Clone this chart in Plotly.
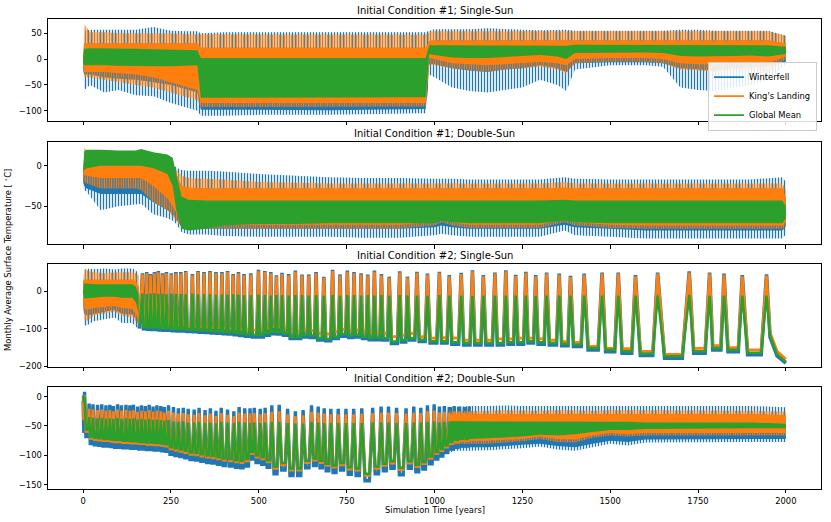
import plotly.graph_objects as go

# ---------------- colours / names ----------------
SERIES = ["Winterfell", "King's Landing", "Global Mean"]
C_WF, C_KL, C_GM = "#1f77b4", "#ff7f0e", "#2ca02c"

PANEL_TITLES = ["Initial Condition #1; Single-Sun", "Initial Condition #1; Double-Sun",
                "Initial Condition #2; Single-Sun", "Initial Condition #2; Double-Sun"]
X_TICKS = [0, 250, 500, 750, 1000, 1250, 1500, 1750, 2000]
P1_YTICKS = [50, 0, -50, -100]
P2_YTICKS = [0, -50]
P3_YTICKS = [0, -100, -200]
P4_YTICKS = [0, -50, -100, -150]

# ---------------- Panel 1 (envelopes, deg C) ----------------
P1_YEARS = [0, 3, 20, 60, 100, 150, 200, 250, 300, 325, 335, 400, 500, 600, 700, 800, 900, 975, 985, 1000,
            1050, 1100, 1150, 1200, 1250, 1300, 1350, 1375, 1400, 1500, 1600, 1650, 1700, 1750, 1800, 1850, 1900, 1950, 2000]
P1_WF_HI = [0, 55, 57, 57, 56, 57, 62, 55, 54, 54, 50, 52, 52, 52, 52, 53, 53, 52, 55, 58,
            58, 58, 60, 58, 57, 56, 57, 57, 55, 55, 55, 55, 57, 57, 55, 55, 55, 55, 45]
P1_WF_CORE_HI = [0, 30, 30, 30, 30, 30, 30, 30, 30, 30, 22, 22, 22, 22, 22, 22, 22, 22, 35, 36,
                 36, 36, 36, 36, 36, 36, 36, 36, 37, 37, 37, 37, 36, 36, 36, 36, 36, 36, 30]
P1_WF_CORE_LO = [-20, -30, -30, -35, -38, -40, -45, -50, -60, -65, -98, -99, -99, -99, -99, -98, -98, -97, -10, -10,
                 -18, -22, -25, -20, -18, -12, -18, -25, -8, -6, -6, -8, -18, -20, -22, -18, -16, -14, -5]
P1_WF_LO = [-20, -60, -50, -65, -60, -70, -72, -85, -95, -100, -110, -110, -108, -108, -108, -106, -106, -105, -30, -35,
            -55, -62, -65, -60, -55, -40, -50, -62, -20, -12, -12, -15, -55, -60, -62, -55, -50, -40, -10]
P1_KL_HI = [0, 68, 52, 52, 50, 50, 50, 50, 48, 48, 47, 47, 47, 47, 47, 47, 47, 47, 52, 54,
            54, 54, 54, 54, 54, 54, 54, 54, 54, 54, 54, 54, 54, 54, 54, 54, 54, 54, 45]
P1_KL_CORE_HI = [0, 30, 30, 30, 30, 30, 30, 30, 30, 30, 22, 22, 22, 22, 22, 22, 22, 22, 35, 36,
                 36, 36, 36, 36, 36, 36, 36, 36, 37, 37, 37, 37, 36, 36, 36, 36, 36, 36, 30]
P1_KL_CORE_LO = [-10, -25, -25, -25, -28, -30, -35, -45, -55, -60, -85, -85, -85, -85, -85, -85, -85, -85, 2, 0,
                 -8, -10, -12, -10, -8, -5, -8, -12, 0, 2, 2, 0, -8, -10, -10, -8, -6, -8, 5]
P1_KL_LO = [-15, -35, -35, -40, -45, -50, -55, -65, -75, -80, -93, -93, -93, -93, -93, -92, -92, -92, -10, -12,
            -18, -22, -25, -20, -18, -15, -20, -28, -8, -5, -5, -8, -20, -22, -25, -22, -20, -25, 0]
P1_GM_HI = [0, 20, 21, 21, 20, 20, 19, 18, 18, 17, 2, 2, 2, 2, 2, 2, 2, 2, 27, 27,
            26, 26, 26, 26, 27, 27, 27, 26, 28, 28, 28, 28, 27, 27, 27, 27, 27, 27, 24]
P1_GM_LO = [-10, -12, -12, -12, -13, -14, -14, -14, -13, -12, -75, -75, -74, -74, -74, -74, -74, -74, 10, 8,
            3, 2, 2, 4, 6, 8, 5, 0, 12, 13, 13, 12, 6, 5, 5, 6, 7, 5, 10]

# ---------------- Panel 2 ----------------
P2_YEARS = [0, 3, 10, 50, 100, 150, 165, 200, 240, 255, 265, 280, 300, 350, 400, 500, 600, 700, 800, 900,
            1000, 1020, 1050, 1100, 1200, 1300, 1370, 1400, 1500, 1600, 1700, 1800, 1900, 1990, 2000]
P2_WF_HI = [-5, 5, 10, 12, 12, 14, 14, 10, 5, 2, -2, -5, -6, -6, -7, -10, -12, -14, -15, -15,
            -16, -16, -16, -17, -17, -17, -14, -16, -17, -17, -17, -17, -17, -14, -20]
P2_WF_CORE_HI = [-5, 10, 10, 10, 10, 10, 10, 8, 5, 0, -10, -25, -27, -28, -28, -28, -28, -28, -28, -28,
                 -28, -28, -28, -28, -28, -28, -27, -28, -28, -28, -28, -28, -28, -28, -40]
P2_WF_CORE_LO = [-20, -25, -28, -35, -35, -35, -35, -45, -55, -60, -65, -75, -78, -78, -78, -78, -78, -78, -78, -78,
                 -76, -74, -76, -78, -78, -78, -73, -76, -78, -80, -80, -80, -80, -80, -75]
P2_WF_LO = [-20, -30, -32, -55, -50, -48, -47, -60, -65, -68, -72, -82, -85, -85, -87, -88, -88, -88, -89, -89,
            -86, -84, -86, -88, -88, -88, -80, -86, -88, -90, -90, -90, -90, -90, -85]
P2_KL_HI = [-5, 24, 18, 15, 15, 15, 15, 12, 8, 3, -5, -12, -15, -16, -17, -20, -21, -22, -22, -22,
            -22, -22, -22, -22, -22, -22, -20, -22, -22, -22, -22, -22, -22, -22, -30]
P2_KL_CORE_HI = [-5, 10, 10, 10, 10, 10, 10, 8, 5, 0, -10, -25, -27, -28, -28, -28, -28, -28, -28, -28,
                 -28, -28, -28, -28, -28, -28, -27, -28, -28, -28, -28, -28, -28, -28, -40]
P2_KL_CORE_LO = [-10, -12, -12, -15, -15, -15, -15, -25, -40, -50, -58, -70, -72, -72, -73, -73, -73, -73, -73, -73,
                 -70, -66, -70, -73, -73, -73, -66, -70, -73, -74, -74, -74, -74, -74, -70]
P2_KL_LO = [-15, -20, -22, -28, -28, -28, -30, -45, -55, -62, -68, -76, -78, -78, -78, -78, -78, -78, -78, -78,
            -74, -70, -74, -77, -77, -77, -70, -74, -77, -78, -78, -78, -78, -78, -75]
P2_GM_HI = [-10, 18, 20, 20, 19, 19, 21, 17, 14, 10, -10, -38, -42, -43, -43, -43, -43, -43, -43, -43,
            -43, -43, -43, -43, -43, -43, -42, -43, -43, -43, -43, -43, -43, -43, -50]
P2_GM_LO = [-10, -5, -3, 0, 0, 0, 0, -3, -10, -25, -55, -78, -80, -78, -74, -72, -72, -71, -71, -71,
            -71, -68, -70, -71, -71, -71, -68, -70, -71, -71, -71, -71, -71, -71, -65]

# ---------------- Panel 3 : early dense part (envelopes) ----------------
P3_BAND_YEARS = [0, 3, 10, 30, 60, 90, 110, 140, 150, 158]
P3_WF_HI = [30, 55, 60, 58, 60, 57, 60, 60, 55, 45]
P3_WF_CORE_HI = [25, 30, 30, 30, 30, 30, 30, 30, 25, 10]
P3_WF_CORE_LO = [-35, -60, -65, -60, -55, -50, -60, -62, -75, -90]
P3_WF_LO = [-40, -90, -92, -80, -75, -70, -85, -85, -95, -100]
P3_KL_HI = [28, 58, 55, 50, 48, 50, 50, 50, 48, 40]
P3_KL_CORE_HI = [25, 30, 30, 30, 30, 30, 30, 30, 25, 10]
P3_KL_CORE_LO = [-25, -45, -50, -45, -42, -40, -45, -48, -60, -80]
P3_KL_LO = [-30, -75, -80, -65, -60, -55, -65, -70, -80, -88]
P3_GM_HI = [0, 20, 20, 18, 18, 18, 18, 18, 12, -10]
P3_GM_LO = [-10, -20, -20, -18, -15, -15, -18, -18, -30, -60]

# ---------------- Panel 3 : spikes (years of warm peaks, peak and trough values) ----------------
P3_SPIKE_YEARS = [169, 181, 192, 203, 214, 226, 237, 251, 264, 278, 292, 311, 327, 344, 361, 378, 395, 411, 427, 442,
                  458, 477, 499, 517, 534, 550, 566, 585, 604, 623, 642, 663, 685, 710, 731, 752, 771, 791, 810, 829,
                  849, 871, 901, 923, 950, 980, 1014, 1042, 1076, 1108, 1139, 1172, 1203, 1231, 1260, 1288, 1319, 1355,
                  1387, 1426, 1477, 1523, 1572, 1635, 1725, 1783, 1824, 1876, 1945]
P3_WF_PEAK = [47, 50, 45, 50, 53, 47, 50, 47, 50, 50, 53, 45, 53, 50, 53, 50, 50, 53, 45, 50, 45,
              47, 56, 53, 50, 42, 48, 45, 54, 44, 44, 50, 38, 56, 44, 54, 50, 47, 44, 54, 45, 38, 52, 38,
              51, 46, 51, 42, 48, 55, 42, 49, 55, 43, 51, 42, 49, 46, 40, 46, 49, 49, 42, 49, 52, 49, 46, 42, 44]
P3_KL_PEAK = [44, 47, 42, 47, 50, 44, 47, 44, 47, 47, 50, 42, 50, 47, 50, 47, 47, 50, 42, 47, 42,
              44, 53, 50, 47, 39, 45, 42, 51, 41, 41, 47, 35, 53, 41, 51, 47, 44, 41, 51, 42, 35, 49, 35,
              48, 43, 48, 39, 45, 52, 39, 46, 52, 40, 48, 39, 46, 43, 37, 43, 46, 46, 39, 46, 49, 46, 43, 39, 41]
P3_GM_PEAK = [-6, -8, -7, -6, -8, -7, -9, -7, -8, -8, -9, -7, -9, -8, -9, -10, -9, -10, -9, -10, -11,
              -11, -10, -11, -12, -11, -11, -12, -11, -11, -12, -11, -12, -11, -12, -11, -11, -12, -11, -12, -11, -12, -11, -12,
              -12, -12, -11, -12, -12, -13, -12, -12, -12, -12, -12, -13, -12, -12, -12, -12, -12, -12, -12, -12, -11, -12, -12, -12, -12]
P3_WF_TROUGH = [-100, -101, -102, -102, -103, -104, -104, -105, -106, -106, -107, -108, -109, -110, -111, -112, -113, -114, -116, -118, -120,
                -122, -122, -117, -113, -114, -117, -126, -126, -122, -123, -130, -132, -126, -120, -123, -122, -126, -129, -129, -130, -139, -135, -130,
                -134, -138, -138, -141, -143, -143, -143, -143, -141, -141, -138, -141, -143, -145, -147, -156, -161, -165, -171, -178, -165, -156, -161, -169]
P3_KL_TROUGH = [-88, -88, -89, -89, -90, -90, -91, -91, -92, -92, -93, -94, -95, -96, -97, -98, -99, -100, -101, -102, -104,
                -104, -104, -99, -95, -96, -99, -108, -108, -104, -105, -112, -114, -108, -102, -105, -104, -108, -111, -111, -112, -121, -117, -112,
                -121, -125, -124, -125, -130, -130, -130, -127, -127, -125, -125, -127, -130, -134, -136, -147, -152, -153, -160, -168, -152, -145, -150, -156]
P3_GM_TROUGH = [-95, -96, -97, -97, -98, -99, -99, -100, -101, -101, -102, -103, -104, -105, -106, -107, -108, -109, -111, -113, -115,
                -117, -117, -112, -108, -109, -112, -121, -121, -117, -118, -125, -127, -121, -115, -118, -117, -121, -124, -124, -125, -134, -130, -125,
                -129, -133, -133, -136, -138, -138, -138, -138, -136, -136, -133, -136, -138, -140, -142, -151, -156, -160, -166, -173, -160, -151, -156, -164]
P3_LEAD_YEARS = [160]
P3_WF_LEAD = [-100]
P3_KL_LEAD = [-87]
P3_GM_LEAD = [-94]
P3_TAIL_YEARS = [1955, 1975, 2000]
P3_WF_TAIL = [-122, -172, -191]
P3_KL_TAIL = [-110, -160, -181]
P3_GM_TAIL = [-118, -168, -188]

# ---------------- Panel 4 : spikes ----------------
P4_SPIKE_YEARS = [4, 17, 28, 41, 53, 65, 76, 86, 98, 109, 122, 133, 143, 155, 166, 177, 188, 199, 210, 221,
                  231, 243, 257, 271, 285, 299, 316, 330, 347, 362, 378, 393, 411, 429, 444, 460, 475, 487, 504, 518,
                  537, 558, 582, 604, 626, 650, 669, 686, 705, 726, 748, 770, 793, 824, 848, 869, 892, 919, 941, 961,
                  980, 999, 1014, 1028, 1042, 1056, 1071, 1085, 1099]
P4_WF_PEAK = [8,
              -12, -13, -14, -13, -15, -14, -16, -13, -15, -14, -15, -14, -17, -15, -16, -14, -17, -15, -16, -18, -15,
              -18, -20, -19, -21, -22, -19, -23, -20, -24, -19, -22, -25, -18, -20,
              -20, -19, -21, -19, -15, -14, -21, -25, -23, -15, -17, -20, -21, -21, -21, -21, -20, -19, -17, -17, -19, -20, -17, -19,
              -15, -13, -17, -16, -18, -16, -17, -18, -17]
P4_KL_PEAK = [2,
              -21, -22, -23, -22, -24, -23, -25, -22, -24, -23, -24, -23, -26, -24, -25, -23, -26, -24, -25, -27, -24,
              -27, -29, -28, -30, -31, -28, -32, -29, -33, -28, -31, -33, -27, -29,
              -29, -28, -30, -28, -26, -25, -30, -33, -32, -26, -27, -29, -30, -30, -30, -30, -29, -28, -27, -27, -28, -29, -27, -28,
              -25, -24, -27, -26, -28, -26, -27, -28, -27]
P4_GM_PEAK = [0,
              -35, -36, -37, -36, -38, -37, -38, -36, -38, -37, -38, -37, -39, -38, -39, -38, -40, -39, -40, -41, -40,
              -42, -43, -42, -44, -44, -43, -45, -44, -45, -43, -44, -45, -43, -44,
              -45, -44, -45, -44, -43, -43, -45, -46, -46, -43, -44, -45, -45, -45, -45, -45, -45, -44, -44, -44, -45, -45, -44, -44,
              -43, -42, -44, -43, -44, -43, -44, -44, -44]
P4_WF_TROUGH = [-68,
                -80, -82, -83, -84, -84, -85, -86, -86, -87, -87, -88, -88, -89, -89, -90, -90, -91, -91, -92, -93,
                -98, -100, -102, -104, -107, -108, -110, -112, -113, -115, -117, -118, -120, -121, -118,
                -106, -112, -115, -120, -131, -125, -134, -134, -121, -117, -121, -126, -129, -125, -132, -134, -143, -131, -126, -122, -133, -122, -128,
                -123, -114, -106, -101, -95, -89, -86, -84, -84]
P4_KL_TROUGH = [-59,
                -71, -73, -74, -75, -75, -76, -77, -77, -78, -78, -79, -79, -80, -80, -81, -81, -82, -82, -83, -84,
                -89, -91, -93, -95, -98, -99, -101, -103, -104, -106, -108, -109, -111, -112, -109,
                -97, -103, -106, -111, -122, -116, -125, -125, -112, -108, -112, -117, -120, -116, -123, -125, -134, -122, -117, -113, -124, -113, -119,
                -114, -105, -97, -92, -86, -80, -77, -75, -75]
P4_GM_TROUGH = [-56,
                -68, -70, -71, -72, -72, -73, -74, -74, -75, -75, -76, -76, -77, -77, -78, -78, -79, -79, -80, -81,
                -86, -88, -90, -92, -95, -96, -98, -100, -101, -103, -105, -106, -108, -109, -106,
                -94, -100, -103, -108, -119, -113, -122, -122, -109, -105, -109, -114, -117, -113, -120, -122, -131, -119, -114, -110, -121, -110, -116,
                -111, -102, -94, -89, -83, -77, -74, -72, -72]
P4_LEAD_YEARS = [0, 2]
P4_WF_LEAD = [-8, -62]
P4_KL_LEAD = [0, -40]
P4_GM_LEAD = [2, -10]

# ---------------- Panel 4 : later dense part (envelopes) ----------------
P4_BAND_YEARS = [1040, 1060, 1100, 1150, 1200, 1250, 1300, 1350, 1400, 1450, 1500, 1550, 1600, 1700, 1800, 1900, 2000]
P4_WF_HI = [-18, -17, -16, -16, -15, -16, -16, -15, -16, -16, -15, -15, -16, -16, -15, -16, -18]
P4_WF_CORE_HI = [-30, -30, -30, -30, -29, -30, -30, -29, -30, -30, -29, -29, -30, -30, -29, -30, -32]
P4_WF_CORE_LO = [-90, -86, -86, -86, -84, -82, -80, -84, -86, -80, -75, -77, -73, -73, -72, -72, -72]
P4_WF_LO = [-96, -92, -92, -91, -90, -88, -85, -90, -92, -86, -80, -83, -78, -77, -77, -77, -77]
P4_KL_HI = [-25, -25, -24, -24, -23, -24, -24, -23, -24, -24, -23, -23, -24, -24, -23, -24, -26]
P4_KL_CORE_HI = [-30, -30, -30, -30, -29, -30, -30, -29, -30, -30, -29, -29, -30, -30, -29, -30, -32]
P4_KL_CORE_LO = [-78, -76, -75, -75, -74, -72, -68, -72, -73, -66, -62, -64, -62, -62, -62, -62, -62]
P4_KL_LO = [-84, -81, -80, -80, -78, -76, -72, -77, -78, -70, -66, -68, -66, -66, -66, -66, -66]
P4_GM_HI = [-42, -42, -42, -42, -42, -42, -42, -42, -42, -43, -43, -43, -44, -44, -44, -44, -46]
P4_GM_LO = [-78, -74, -72, -71, -70, -68, -65, -66, -64, -60, -57, -57, -55, -55, -54, -54, -54]

# ---------------- figure ----------------
fig = go.Figure()
AX = {1: ("x", "y"), 2: ("x2", "y2"), 3: ("x3", "y3"), 4: ("x4", "y4")}


def band(panel, years, hi, lo, color, stripes=None):
    assert len(years) == len(hi) == len(lo)
    xa, ya = AX[panel]
    xs = list(years) + list(years)[::-1]
    ys = list(hi) + list(lo)[::-1]
    kw = dict(x=xs, y=ys, mode="lines", line=dict(width=0, color=color), fill="toself",
              hoverinfo="skip", showlegend=False, xaxis=xa, yaxis=ya)
    if stripes:
        kw["fillcolor"] = "rgba(0,0,0,0)"
        kw["fillpattern"] = dict(shape="|", fgcolor=color, fgopacity=1, bgcolor="rgba(0,0,0,0)",
                                 size=stripes[0], solidity=stripes[1])
    else:
        kw["fillcolor"] = color
    fig.add_trace(go.Scatter(**kw))


def spikes(panel, lead_x, lead_y, years, peaks, troughs, tail_x, tail_y, color, width, frac):
    assert len(years) == len(peaks) == len(troughs) + 1
    xa, ya = AX[panel]
    xs, ys = list(lead_x), list(lead_y)
    for i, s in enumerate(years):
        xs.append(s)
        ys.append(peaks[i])
        if i < len(troughs):
            gap = years[i + 1] - s
            xs += [s + frac * gap, s + (1 - frac) * gap]
            ys += [troughs[i], troughs[i]]
    xs += list(tail_x)
    ys += list(tail_y)
    fig.add_trace(go.Scatter(x=xs, y=ys, mode="lines", line=dict(color=color, width=width),
                             hoverinfo="skip", showlegend=False, xaxis=xa, yaxis=ya))


WF_STRIPES = (3, 0.45)
KL_STRIPES = (2.4, 0.55)
P3_FRAC = 0.22
P4_FRAC = 0.3


def band_set(panel, years, wf, kl, gm):
    band(panel, years, wf[0], wf[3], C_WF, stripes=WF_STRIPES)
    band(panel, years, wf[1], wf[2], C_WF)
    band(panel, years, kl[0], kl[3], C_KL, stripes=KL_STRIPES)
    band(panel, years, kl[1], kl[2], C_KL)
    band(panel, years, gm[0], gm[1], C_GM)


band_set(1, P1_YEARS, (P1_WF_HI, P1_WF_CORE_HI, P1_WF_CORE_LO, P1_WF_LO),
         (P1_KL_HI, P1_KL_CORE_HI, P1_KL_CORE_LO, P1_KL_LO), (P1_GM_HI, P1_GM_LO))
band_set(2, P2_YEARS, (P2_WF_HI, P2_WF_CORE_HI, P2_WF_CORE_LO, P2_WF_LO),
         (P2_KL_HI, P2_KL_CORE_HI, P2_KL_CORE_LO, P2_KL_LO), (P2_GM_HI, P2_GM_LO))

# panel 3: early band then spikes (drawn series by series)
band(3, P3_BAND_YEARS, P3_WF_HI, P3_WF_LO, C_WF, stripes=WF_STRIPES)
band(3, P3_BAND_YEARS, P3_WF_CORE_HI, P3_WF_CORE_LO, C_WF)
spikes(3, P3_LEAD_YEARS, P3_WF_LEAD, P3_SPIKE_YEARS, P3_WF_PEAK, P3_WF_TROUGH, P3_TAIL_YEARS, P3_WF_TAIL, C_WF, 3.6, P3_FRAC)
band(3, P3_BAND_YEARS, P3_KL_HI, P3_KL_LO, C_KL, stripes=KL_STRIPES)
band(3, P3_BAND_YEARS, P3_KL_CORE_HI, P3_KL_CORE_LO, C_KL)
spikes(3, P3_LEAD_YEARS, P3_KL_LEAD, P3_SPIKE_YEARS, P3_KL_PEAK, P3_KL_TROUGH, P3_TAIL_YEARS, P3_KL_TAIL, C_KL, 2.8, P3_FRAC)
band(3, P3_BAND_YEARS, P3_GM_HI, P3_GM_LO, C_GM)
spikes(3, P3_LEAD_YEARS, P3_GM_LEAD, P3_SPIKE_YEARS, P3_GM_PEAK, P3_GM_TROUGH, P3_TAIL_YEARS, P3_GM_TAIL, C_GM, 2.5, P3_FRAC)

# panel 4: spikes then later band
spikes(4, P4_LEAD_YEARS, P4_WF_LEAD, P4_SPIKE_YEARS, P4_WF_PEAK, P4_WF_TROUGH, [], [], C_WF, 3.4, P4_FRAC)
band(4, P4_BAND_YEARS, P4_WF_HI, P4_WF_LO, C_WF, stripes=WF_STRIPES)
band(4, P4_BAND_YEARS, P4_WF_CORE_HI, P4_WF_CORE_LO, C_WF)
spikes(4, P4_LEAD_YEARS, P4_KL_LEAD, P4_SPIKE_YEARS, P4_KL_PEAK, P4_KL_TROUGH, [], [], C_KL, 2.8, P4_FRAC)
band(4, P4_BAND_YEARS, P4_KL_HI, P4_KL_LO, C_KL, stripes=KL_STRIPES)
band(4, P4_BAND_YEARS, P4_KL_CORE_HI, P4_KL_CORE_LO, C_KL)
spikes(4, P4_LEAD_YEARS, P4_GM_LEAD, P4_SPIKE_YEARS, P4_GM_PEAK, P4_GM_TROUGH, [], [], C_GM, 2.5, P4_FRAC)
band(4, P4_BAND_YEARS, P4_GM_HI, P4_GM_LO, C_GM)

# legend entries
for name, col in zip(SERIES, [C_WF, C_KL, C_GM]):
    fig.add_trace(go.Scatter(x=[None], y=[None], mode="lines", name=name,
                             line=dict(color=col, width=1.8), xaxis="x", yaxis="y"))

# ---------------- layout ----------------
FONT = "DejaVu Sans"
DOMAINS = {1: [0.783, 1.0], 2: [0.521, 0.738], 3: [0.2596, 0.4787], 4: [0.0, 0.217]}
YRANGES = {1: [-120, 77.7], 2: [-97, 29.4], 3: [-201.5, 71.6], 4: [-157, 16.2]}
YTICKS = {1: P1_YTICKS, 2: P2_YTICKS, 3: P3_YTICKS, 4: P4_YTICKS}

layout = dict(width=831, height=522, margin=dict(l=48, r=10, t=19, b=33),
              paper_bgcolor="white", plot_bgcolor="white",
              font=dict(family=FONT, size=8.4, color="black"),
              showlegend=True,
              legend=dict(x=0.9948, y=0.836, xanchor="right", yanchor="middle",
                          bgcolor="rgba(255,255,255,0.85)", bordercolor="#cccccc", borderwidth=1,
                          font=dict(family=FONT, size=8.4), itemwidth=30, tracegroupgap=0))
for k in range(1, 5):
    sx = "" if k == 1 else str(k)
    layout["xaxis" + sx] = dict(domain=[0, 1], range=[-100, 2100], anchor="y" + sx,
                                tickvals=X_TICKS, ticks="outside", ticklen=3.5, tickwidth=0.8,
                                tickcolor="black", showline=True, linecolor="black", linewidth=0.9,
                                mirror=True, showgrid=False, zeroline=False,
                                showticklabels=(k == 4), tickfont=dict(size=8.4),
                                matches=None if k == 1 else "x")
    layout["yaxis" + sx] = dict(domain=DOMAINS[k], range=YRANGES[k], anchor="x" + sx,
                                tickvals=YTICKS[k], ticks="outside", ticklen=3.5, tickwidth=0.8,
                                tickcolor="black", showline=True, linecolor="black", linewidth=0.9,
                                mirror=True, showgrid=False, zeroline=False, tickfont=dict(size=8.4))

ann = []
for k in range(1, 5):
    ann.append(dict(text=PANEL_TITLES[k - 1], x=0.5, y=DOMAINS[k][1], xref="paper", yref="paper",
                    xanchor="center", yanchor="bottom", yshift=1, showarrow=False,
                    font=dict(family=FONT, size=10)))
ann.append(dict(text="Monthly Average Surface Temperature [ <sup>∘</sup>C]", x=-0.052, y=0.487,
                xref="paper", yref="paper", textangle=-90, showarrow=False,
                xanchor="center", yanchor="middle", font=dict(family=FONT, size=8.4)))
ann.append(dict(text="Simulation Time [years]", x=0.5, y=-0.045, xref="paper", yref="paper",
                xanchor="center", yanchor="middle", showarrow=False, font=dict(family=FONT, size=8.4)))
layout["annotations"] = ann
fig.update_layout(**layout)

fig.write_html("out.html", config={"displayModeBar": False},
               post_script="document.body.style.margin='0px';document.body.style.overflow='hidden';")
